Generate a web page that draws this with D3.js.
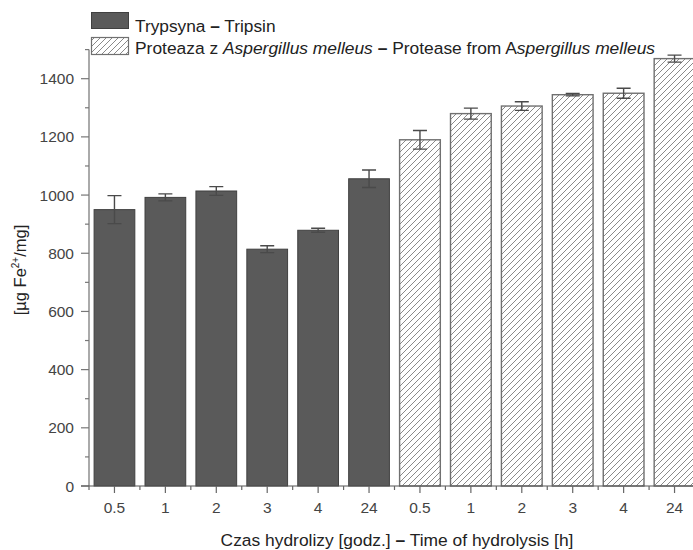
<!DOCTYPE html>
<html>
<head>
<meta charset="utf-8">
<script src="https://cdn.jsdelivr.net/npm/d3@7/dist/d3.min.js"></script>
<style>
  html, body { margin: 0; padding: 0; background: #fff; }
  svg { display: block; font-family: "Liberation Sans", Arial, Helvetica, sans-serif; }
</style>
</head>
<body>
<svg id="chart" width="693" height="550"></svg>
<script>
// Hydrolysis time points (hours), shared by both enzymes
const timeLabels = ["0.5", "1", "2", "3", "4", "24"];

// Trypsin hydrolysates: mean and standard deviation [µg Fe2+/mg]
const trypsinMeans = [950, 992, 1014, 814, 879, 1056];
const trypsinErr   = [48, 12, 15, 12, 7, 30];

// Aspergillus melleus protease hydrolysates
const proteaseMeans = [1190, 1280, 1306, 1345, 1350, 1469];
const proteaseErr   = [32, 19, 15, 4, 17, 12];

// Y axis ticks
const yMajorTicks = [0, 200, 400, 600, 800, 1000, 1200, 1400];
const yMinorTicks = [100, 300, 500, 700, 900, 1100, 1300, 1500];

const rows = [
  ...timeLabels.map((t, i) => ({ key: "T" + i, label: t, group: "trypsin", mean: trypsinMeans[i], err: trypsinErr[i] })),
  ...timeLabels.map((t, i) => ({ key: "P" + i, label: t, group: "protease", mean: proteaseMeans[i], err: proteaseErr[i] }))
];

const svg = d3.select("#chart");
const plotLeft = 89, plotRight = 700, plotBottom = 486, plotTop = 49.6;

const x = d3.scaleBand()
  .domain(rows.map(d => d.key))
  .range([plotLeft, plotRight])
  .paddingInner(0.2)
  .paddingOuter(0.1);

const y = d3.scaleLinear()
  .domain([0, 1500])
  .range([plotBottom, plotTop]);

// Diagonal hatch for the protease bars
const defs = svg.append("defs");
const hatch = defs.append("pattern")
  .attr("id", "hatch")
  .attr("patternUnits", "userSpaceOnUse")
  .attr("width", 6).attr("height", 6);
hatch.append("rect").attr("width", 6).attr("height", 6).attr("fill", "#fff");
hatch.append("path")
  .attr("d", "M0,6 L6,0 M-1.5,1.5 L1.5,-1.5 M4.5,7.5 L7.5,4.5")
  .attr("stroke", "#8a8a8a").attr("stroke-width", 1);

// Bars
svg.append("g").selectAll("rect")
  .data(rows)
  .join("rect")
  .attr("x", d => x(d.key))
  .attr("y", d => y(d.mean))
  .attr("width", x.bandwidth())
  .attr("height", d => y(0) - y(d.mean))
  .attr("fill", d => d.group === "trypsin" ? "#5a5a5a" : "url(#hatch)")
  .attr("stroke", d => d.group === "trypsin" ? "#404040" : "#707070")
  .attr("stroke-width", d => d.group === "trypsin" ? 1 : 1.4);

// Error bars
const capHalf = 7;
const eb = svg.append("g").attr("stroke", "#4a4a4a").attr("stroke-width", 1.4).attr("fill", "none");
eb.selectAll("path")
  .data(rows)
  .join("path")
  .attr("d", d => {
    const cx = x(d.key) + x.bandwidth() / 2;
    const t = y(d.mean + d.err), b = y(d.mean - d.err);
    return `M${cx},${t}V${b}M${cx - capHalf},${t}H${cx + capHalf}M${cx - capHalf},${b}H${cx + capHalf}`;
  });

// Y axis
const yAxis = svg.append("g").attr("transform", `translate(${plotLeft},0)`);
yAxis.append("line")
  .attr("x1", 0).attr("x2", 0).attr("y1", y(0)).attr("y2", y(1500))
  .attr("stroke", "#aaaaaa").attr("stroke-width", 2);
yAxis.selectAll(".major")
  .data(yMajorTicks)
  .join("line")
  .attr("x1", -8).attr("x2", 0)
  .attr("y1", d => y(d)).attr("y2", d => y(d))
  .attr("stroke", "#777").attr("stroke-width", 1.2);
yAxis.selectAll(".minor")
  .data(yMinorTicks)
  .join("line")
  .attr("x1", -4).attr("x2", 0)
  .attr("y1", d => y(d)).attr("y2", d => y(d))
  .attr("stroke", "#777").attr("stroke-width", 1.2);
yAxis.selectAll("text")
  .data(yMajorTicks)
  .join("text")
  .attr("x", -15)
  .attr("y", d => y(d))
  .attr("dy", "0.36em")
  .attr("text-anchor", "end")
  .attr("font-size", 15.5)
  .attr("fill", "#444")
  .text(d => d);

// X axis
const xAxis = svg.append("g").attr("transform", `translate(0,${plotBottom})`);
xAxis.append("line")
  .attr("x1", plotLeft - 8).attr("x2", plotRight)
  .attr("stroke", "#555").attr("stroke-width", 1.2);
xAxis.selectAll(".major")
  .data(rows)
  .join("line")
  .attr("x1", d => x(d.key) + x.bandwidth() / 2)
  .attr("x2", d => x(d.key) + x.bandwidth() / 2)
  .attr("y1", 0).attr("y2", 7)
  .attr("stroke", "#666").attr("stroke-width", 1.2);
xAxis.selectAll(".minor")
  .data(rows)
  .join("line")
  .attr("x1", d => x(d.key) - x.step() * x.paddingInner() / 2)
  .attr("x2", d => x(d.key) - x.step() * x.paddingInner() / 2)
  .attr("y1", 0).attr("y2", 4)
  .attr("stroke", "#666").attr("stroke-width", 1.2);
xAxis.selectAll("text")
  .data(rows)
  .join("text")
  .attr("x", d => x(d.key) + x.bandwidth() / 2)
  .attr("y", 27)
  .attr("text-anchor", "middle")
  .attr("font-size", 15.5)
  .attr("fill", "#444")
  .text(d => d.label);

// Axis titles
const xTitle = svg.append("text")
  .attr("x", 397).attr("y", 546)
  .attr("text-anchor", "middle")
  .attr("font-size", 17.4)
  .attr("fill", "#222");
xTitle.append("tspan").text("Czas hydrolizy [godz.] ");
xTitle.append("tspan").attr("font-weight", "bold").text("–");
xTitle.append("tspan").text(" Time of hydrolysis [h]");

const yTitle = svg.append("text")
  .attr("transform", "translate(26,270) rotate(-90)")
  .attr("text-anchor", "middle")
  .attr("font-size", 16.5)
  .attr("fill", "#222");
yTitle.append("tspan").text("[µg Fe");
yTitle.append("tspan").attr("font-size", 10).attr("dy", -7).text("2+");
yTitle.append("tspan").attr("dy", 7).text("/mg]");

// Legend
const legend = svg.append("g");
legend.append("rect")
  .attr("x", 91.5).attr("y", 12.5).attr("width", 37).attr("height", 16)
  .attr("fill", "#5a5a5a").attr("stroke", "#404040");
legend.append("rect")
  .attr("x", 91.5).attr("y", 37.5).attr("width", 37).attr("height", 17)
  .attr("fill", "url(#hatch)").attr("stroke", "#707070").attr("stroke-width", 1.2);

const l1 = legend.append("text").attr("x", 135).attr("y", 32).attr("font-size", 17.3).attr("fill", "#222");
l1.append("tspan").text("Trypsyna ");
l1.append("tspan").attr("font-weight", "bold").text("–");
l1.append("tspan").text(" Tripsin");

const l2 = legend.append("text").attr("x", 135).attr("y", 54).attr("font-size", 17.4).attr("fill", "#222");
l2.append("tspan").text("Proteaza z ");
l2.append("tspan").attr("font-style", "italic").text("Aspergillus melleus");
l2.append("tspan").attr("font-weight", "bold").text(" – ");
l2.append("tspan").text("Protease from A");
l2.append("tspan").attr("font-style", "italic").text("spergillus melleus");
</script>
</body>
</html>
